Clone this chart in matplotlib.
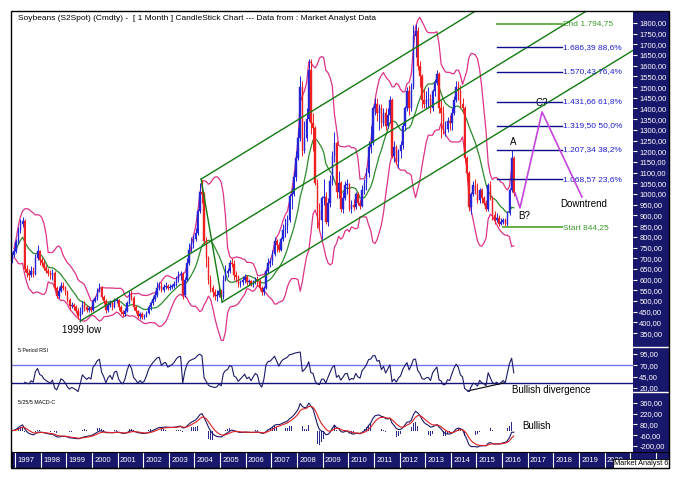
import numpy as np
import pandas as pd
import matplotlib
matplotlib.use('Agg')
import matplotlib.pyplot as plt
from matplotlib.patches import Rectangle

plt.rcParams['font.family'] = ['Liberation Sans', 'DejaVu Sans']

# monthly candles, Nov 1996 .. Jun 2016
first_open = 690
closes = [715, 735,
          775, 830, 860, 875, 650, 630, 620, 640, 625, 700, 735, 690,
          680, 655, 640, 630, 620, 630, 560, 525, 545, 570, 560, 540,
          505, 475, 480, 470, 455, 430, 450, 480, 470, 460, 465, 460,
          500, 515, 545, 560, 520, 500, 460, 480, 490, 470, 500, 505,
          470, 450, 440, 455, 490, 530, 515, 470, 455, 430, 440, 425,
          430, 445, 470, 490, 510, 530, 560, 570, 550, 565, 570, 560,
          565, 570, 580, 600, 620, 625, 530, 600, 680, 740, 770, 790,
          820, 920, 1010, 1000, 780, 700, 600, 560, 540, 525, 530, 545,
          520, 600, 630, 640, 680, 675, 620, 610, 580, 590, 600, 610,
          590, 595, 580, 590, 600, 595, 560, 540, 560, 640, 680, 685,
          720, 780, 760, 740, 790, 830, 850, 880, 990, 1000, 1080, 1170,
          1260, 1500, 1200, 1260, 1350, 1580, 1330, 1310, 1050, 920, 880, 980,
          985, 870, 960, 1060, 1180, 1240, 1010, 1050, 930, 980, 1040, 1045,
          930, 950, 940, 1000, 960, 945, 1020, 1050, 1100, 1220, 1240, 1400,
          1420, 1380, 1400, 1330, 1380, 1320, 1370, 1440, 1180, 1220, 1150, 1200,
          1230, 1320, 1400, 1480, 1400, 1500, 1740, 1760, 1600, 1550, 1440, 1420,
          1440, 1445, 1400, 1480, 1520, 1560, 1400, 1380, 1300, 1305, 1340, 1330,
          1380, 1440, 1500, 1480, 1420, 1400, 1170, 1100, 940, 1000, 1040, 1020,
          970, 1020, 980, 960, 930, 1040, 980, 900, 880, 890, 860, 870,
          880, 860, 910, 1020, 1170, 1005]
highs = [730, 750,
         790, 845, 885, 895, 885, 670, 650, 665, 660, 720, 760, 740,
         705, 690, 670, 655, 645, 650, 640, 570, 565, 590, 590, 570,
         550, 515, 495, 490, 480, 465, 470, 500, 500, 480, 475, 475,
         510, 525, 560, 585, 570, 530, 510, 495, 505, 500, 515, 520,
         510, 480, 460, 465, 500, 545, 550, 525, 480, 460, 450, 450,
         440, 455, 480, 500, 525, 545, 590, 590, 590, 580, 590, 580,
         580, 580, 595, 615, 640, 640, 635, 610, 700, 770, 800, 810,
         840, 930, 1050, 1066, 1010, 800, 710, 620, 575, 555, 550, 560,
         555, 620, 670, 655, 690, 700, 690, 640, 620, 600, 615, 625,
         620, 605, 600, 600, 610, 615, 605, 570, 570, 650, 700, 700,
         740, 800, 790, 775, 800, 860, 890, 900, 1000, 1030, 1110, 1200,
         1310, 1550, 1530, 1340, 1400, 1630, 1630, 1380, 1320, 1070, 960, 990,
         1070, 1010, 980, 1090, 1200, 1290, 1250, 1110, 1060, 1010, 1060, 1070,
         1050, 970, 975, 1010, 1010, 975, 1040, 1070, 1120, 1250, 1320, 1410,
         1450, 1450, 1420, 1420, 1400, 1400, 1400, 1460, 1450, 1250, 1230, 1210,
         1250, 1330, 1410, 1500, 1510, 1520, 1790, 1795, 1780, 1620, 1560, 1490,
         1480, 1500, 1470, 1490, 1540, 1580, 1570, 1440, 1410, 1340, 1360, 1370,
         1400, 1460, 1530, 1530, 1510, 1450, 1410, 1180, 1110, 1010, 1060, 1070,
         1050, 1030, 1030, 990, 970, 1050, 1060, 990, 920, 910, 900, 890,
         890, 890, 920, 1030, 1207, 1180]
lows = [680, 705,
        725, 765, 820, 845, 635, 610, 600, 610, 610, 620, 690, 670,
        665, 645, 630, 615, 605, 600, 550, 515, 515, 540, 550, 530,
        495, 460, 465, 460, 445, 415, 402, 440, 455, 450, 450, 450,
        455, 495, 505, 540, 510, 485, 445, 450, 470, 460, 465, 490,
        460, 440, 430, 430, 450, 485, 505, 460, 445, 420, 418, 418,
        415, 425, 440, 460, 480, 500, 520, 550, 540, 540, 555, 550,
        550, 555, 560, 570, 590, 600, 510, 520, 595, 670, 730, 750,
        780, 810, 910, 960, 760, 660, 580, 540, 520, 505, 500, 520,
        505, 510, 595, 610, 630, 660, 600, 590, 565, 565, 575, 585,
        575, 575, 570, 565, 580, 570, 550, 530, 530, 555, 630, 660,
        670, 710, 730, 730, 735, 780, 800, 820, 870, 930, 990, 1060,
        1160, 1250, 1180, 1190, 1250, 1340, 1280, 1200, 1040, 840, 830, 790,
        950, 860, 850, 940, 1040, 1150, 980, 980, 915, 910, 970, 1000,
        920, 910, 925, 930, 950, 930, 940, 1000, 1020, 1080, 1190, 1230,
        1370, 1340, 1300, 1310, 1320, 1300, 1310, 1330, 1170, 1150, 1140, 1120,
        1170, 1210, 1300, 1390, 1370, 1390, 1490, 1640, 1580, 1500, 1400, 1400,
        1400, 1400, 1380, 1390, 1460, 1510, 1380, 1260, 1280, 1270, 1290, 1300,
        1300, 1370, 1430, 1440, 1400, 1380, 1150, 1060, 920, 905, 990, 1000,
        960, 960, 960, 950, 920, 920, 970, 880, 860, 870, 850, 855,
        860, 850, 844, 900, 1010, 990]

years = list(range(1997, 2022))

# Andrews pitchfork pivots (year, price)
pf_low99 = (1999.54, 406)
pf_high04 = (2004.26, 1070)
pf_low04 = (2005.08, 495)

fib_prices = [1794.75, 1686.39, 1570.43, 1431.66, 1319.50, 1207.34, 1068.57, 844.25]
fib_pcts = [None, 88.6, 76.4, 61.8, 50.0, 38.2, 23.6, None]

proj_x = [2016.51, 2016.70, 2017.56, 2019.12]
proj_y = [1005, 935, 1384, 986]

price_ticks = list(range(350, 1801, 50))
rsi_ticks = [20, 45, 70, 95]
macd_ticks = [-200, -60, 80, 220, 360]

NAVY = '#17176b'

def dec(v):
    return f"{v:.2f}".replace('.', ',')

def eur(v):
    return f"{v:,.2f}".replace(',', 'X').replace('.', ',').replace('X', '.')

c = pd.Series(closes, dtype=float)
o = pd.Series([first_open] + closes[:-1], dtype=float)
h = np.array(highs, float)
l = np.array(lows, float)
t = 1996 + 10 / 12 + np.arange(len(c)) / 12 + 1 / 24

ma = c.rolling(12, min_periods=2).mean()
sd = c.rolling(12, min_periods=2).std(ddof=0)
bb_up = ma + 2 * sd
bb_dn = ma - 2 * sd

d = c.diff()
up = d.clip(lower=0).ewm(alpha=1 / 5, adjust=False).mean()
dn = (-d.clip(upper=0)).ewm(alpha=1 / 5, adjust=False).mean()
rsi = 100 - 100 / (1 + up / dn.replace(0, np.nan))

macd = c.ewm(span=5, adjust=False).mean() - c.ewm(span=25, adjust=False).mean()
sig = macd.ewm(span=5, adjust=False).mean()
hist = (macd - sig) * 1.5

W, H = 683, 482
fig = plt.figure(figsize=(W / 100, H / 100), dpi=100)

def px(x0, y0, x1, y1):
    return [x0 / W, 1 - y1 / H, (x1 - x0) / W, (y1 - y0) / H]

XL = (1996.88, 2021.11)
ax = fig.add_axes(px(12, 12, 633, 347))
axr = fig.add_axes(px(12, 347, 633, 392))
axm = fig.add_axes(px(12, 392, 633, 452))
axy = fig.add_axes(px(12, 452, 669, 468))

fig.patches.append(Rectangle((633 / W, 1 - 452 / H), 36 / W, 440 / H, transform=fig.transFigure,
                             facecolor=NAVY, edgecolor='none', zorder=-1))
for yy in (347, 392):
    fig.lines.append(plt.Line2D([633 / W, 669 / W], [1 - yy / H] * 2, transform=fig.transFigure,
                                color='white', lw=1))

for a in (ax, axr, axm):
    a.set_xlim(*XL)
    a.set_xticks([])
    a.patch.set_alpha(0)
    for s in a.spines.values():
        s.set_visible(False)
    a.yaxis.tick_right()
    a.tick_params(axis='y', colors='white', labelcolor='white', labelsize=5.5, length=3, width=0.8, pad=1.5)

# candles
upm = (c >= o).values
cols = np.where(upm, '#2424d8', '#ee2020')
ax.vlines(t, l, h, colors=cols, lw=0.7, zorder=3)
body_lo = np.minimum(o, c)
body_h = np.maximum(np.abs(c - o), 3)
ax.bar(t, body_h, bottom=body_lo, width=0.055, color=cols, edgecolor=cols, lw=0.3, zorder=4)

ax.plot(t, ma, color='#2d8a2d', lw=0.9, zorder=2)
ax.plot(t, bb_up, color='#dd3388', lw=0.9, zorder=2)
ax.plot(t, bb_dn, color='#dd3388', lw=0.9, zorder=2)

# pitchfork
mid = ((pf_high04[0] + pf_low04[0]) / 2, (pf_high04[1] + pf_low04[1]) / 2)
slope = (mid[1] - pf_low99[1]) / (mid[0] - pf_low99[0])
xe = 2022
pf_col = '#127a12'
for p in (pf_low99, pf_high04, pf_low04):
    ax.plot([p[0], xe], [p[1], p[1] + slope * (xe - p[0])], color=pf_col, lw=1, zorder=5)
ax.plot([pf_high04[0], pf_low04[0]], [pf_high04[1], pf_low04[1]], color=pf_col, lw=1, zorder=5)

# fibonacci
for i, (pv, pc) in enumerate(zip(fib_prices, fib_pcts)):
    if pc is None:
        x0 = 2015.81 if i == 0 else 2016.04
        ax.plot([x0, 2018.34], [pv, pv], color='#66b04a', lw=1.4, zorder=5)
        lab = ('End ' if i == 0 else 'Start ') + eur(pv)
        ax.text(2018.38, pv, lab, color='#3c9a2c', fontsize=6, va='center', zorder=6)
    else:
        ax.plot([2015.81, 2018.34], [pv, pv], color='#0c0c8c', lw=1, zorder=5)
        ax.text(2018.38, pv, f"{eur(pv)} {dec(pc)[:-1]}%", color='#2020d0', fontsize=6, va='center', zorder=6)

ax.plot(proj_x, proj_y, color='#c445dd', lw=1.2, zorder=6)
ax.text(2016.45, 1244, 'A', fontsize=7, ha='center', va='center')
ax.text(2016.88, 897, 'B?', fontsize=7, ha='center', va='center')
ax.text(2017.54, 1426, 'C?', fontsize=7, ha='center', va='center')
ax.text(2019.17, 953, 'Downtrend', fontsize=7, ha='center', va='center')
ax.text(1999.6, 364, '1999 low', fontsize=7, ha='center', va='center')

ax.set_ylim(285, 1851)
ax.set_yticks(price_ticks)
ax.set_yticklabels([dec(v) for v in price_ticks])
fig.text(18 / W, 1 - 19 / H,
         'Soybeans (S2Spot) (Cmdty) -  [ 1 Month ] CandleStick Chart --- Data from : Market Analyst Data',
         fontsize=6, va='center')

# RSI
axr.plot(t, rsi, color='#1a1a6a', lw=0.8, zorder=3)
axr.axhline(70, color='#7474ee', lw=1, zorder=2)
axr.axhline(30, color='#14147a', lw=1, zorder=2)
axr.plot([2014.67, 2016.08], [13.5, 31], color='black', lw=0.8)
fig.text(512 / W, 1 - 390 / H, 'Bullish divergence', fontsize=7, va='center', zorder=8)
axr.set_ylim(11, 110)
axr.set_yticks(rsi_ticks)
axr.set_yticklabels([dec(v) for v in rsi_ticks])
fig.text(18 / W, 1 - 350 / H, '5 Period RSI', fontsize=3.8, va='center')

# MACD
axm.bar(t, hist, width=0.02, color='#2a2a8a', zorder=2)
axm.plot(t, macd, color='#1a1a6a', lw=0.8, zorder=3)
axm.plot(t, sig, color='#e02020', lw=0.8, zorder=4)
axm.text(2016.78, 54, 'Bullish', fontsize=7, va='center')
axm.set_ylim(-278, 503)
axm.set_yticks(macd_ticks)
axm.set_yticklabels([dec(v) for v in macd_ticks])
fig.text(18 / W, 1 - 402 / H, '5/25/5 MACD-C', fontsize=3.8, va='center')

# year strip
axy.set_facecolor(NAVY)
axy.set_xlim(XL[0], XL[0] + 657 / 25.63)
axy.set_ylim(0, 1)
axy.set_xticks([])
axy.set_yticks([])
for s in axy.spines.values():
    s.set_color('black')
for yr in years + [2022]:
    axy.axvline(yr, color='white', lw=0.8)
for yr in years[:-1]:
    axy.text(yr + 0.09, 0.45, str(yr), color='white', fontsize=5.5, va='center', clip_on=True)
axy.text(2020.36, 0.3, 'Market Analyst 6', fontsize=5.3, va='center', clip_on=True, zorder=5,
         bbox=dict(facecolor='white', edgecolor='black', lw=0.6, pad=0.6))

fig.patches.append(Rectangle((11 / W, 1 - 468 / H), 658 / W, 457 / H, transform=fig.transFigure,
                             fill=False, edgecolor='black', lw=1, zorder=10))

fig.savefig('out.png', dpi=100)
